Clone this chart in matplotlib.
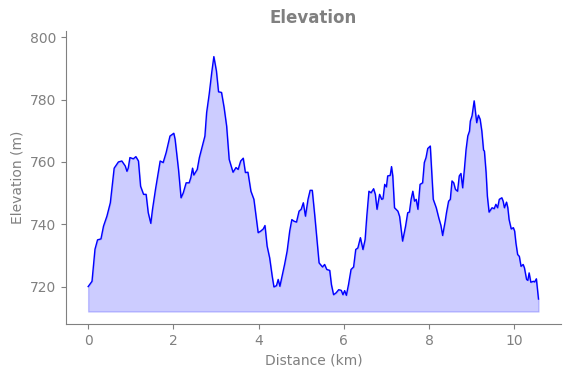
import matplotlib
matplotlib.use("Agg")
import matplotlib.pyplot as plt
import numpy as np

distance_km = [0.00, 0.09, 0.16, 0.22, 0.30, 0.36, 0.44, 0.52, 0.61, 0.71, 0.79, 0.87, 0.91, 0.94, 0.98,
               1.06, 1.12, 1.18, 1.23, 1.30, 1.36, 1.41, 1.47, 1.51, 1.58, 1.65, 1.69, 1.76, 1.83, 1.92,
               2.01, 2.04, 2.12, 2.18, 2.23, 2.30, 2.37, 2.41, 2.45, 2.48, 2.56, 2.61, 2.69, 2.74, 2.78,
               2.84, 2.90, 2.95, 3.01, 3.06, 3.13, 3.19, 3.25, 3.31, 3.40, 3.47, 3.52, 3.58, 3.64, 3.69,
               3.75, 3.82, 3.89, 3.93, 3.99, 4.05, 4.11, 4.15, 4.20, 4.26, 4.32, 4.36, 4.42, 4.46, 4.50,
               4.55, 4.61, 4.67, 4.73, 4.78, 4.83, 4.89, 4.95, 5.00, 5.05, 5.10, 5.16, 5.21, 5.26, 5.32,
               5.37, 5.42, 5.50, 5.55, 5.60, 5.67, 5.71, 5.76, 5.82, 5.88, 5.94, 5.98, 6.02, 6.06, 6.11,
               6.17, 6.23, 6.28, 6.33, 6.39, 6.45, 6.50, 6.54, 6.59, 6.64, 6.70, 6.74, 6.78, 6.84, 6.89,
               6.92, 6.96, 7.00, 7.03, 7.09, 7.12, 7.15, 7.19, 7.27, 7.31, 7.38, 7.45, 7.50, 7.54, 7.58,
               7.62, 7.66, 7.70, 7.74, 7.79, 7.85, 7.89, 7.93, 7.97, 8.03, 8.06, 8.10, 8.17, 8.23, 8.28,
               8.32, 8.38, 8.41, 8.46, 8.50, 8.54, 8.58, 8.62, 8.67, 8.71, 8.75, 8.79, 8.83, 8.87, 8.91,
               8.95, 8.97, 9.01, 9.06, 9.10, 9.12, 9.16, 9.20, 9.24, 9.28, 9.30, 9.34, 9.37, 9.41, 9.48,
               9.53, 9.57, 9.61, 9.65, 9.71, 9.74, 9.77, 9.82, 9.85, 9.88, 9.93, 9.98, 10.01, 10.04, 10.08,
               10.12, 10.16, 10.21, 10.24, 10.29, 10.32, 10.35, 10.39, 10.45, 10.48, 10.52, 10.57]

elevation_m = [720.0, 721.7, 732.0, 735.0, 735.3, 739.4, 742.6, 746.9, 758.0, 760.0, 760.3, 758.7, 757.0, 758.0, 761.4,
               761.0, 761.7, 760.3, 752.2, 749.6, 749.6, 743.7, 740.3, 744.8, 751.2, 757.0, 760.3, 759.8, 763.0, 768.3,
               769.2, 767.3, 757.6, 748.5, 750.0, 753.3, 753.3, 755.0, 758.0, 755.8, 757.6, 761.4, 765.7, 768.3, 775.8,
               781.7, 788.7, 793.8, 789.2, 782.5, 782.3, 777.5, 771.5, 760.8, 756.7, 758.2, 757.6, 760.3, 761.2, 756.6,
               756.7, 750.6, 748.0, 743.7, 737.3, 737.8, 738.5, 739.6, 733.0, 729.2, 723.3, 719.9, 720.3, 722.3, 720.1,
               723.3, 727.1, 731.4, 737.8, 741.5, 741.0, 740.7, 744.2, 744.8, 746.9, 742.6, 748.0, 750.9, 750.9, 742.6,
               735.1, 727.6, 726.3, 727.1, 725.5, 725.2, 720.6, 717.4, 718.0, 719.0, 718.8, 717.4, 718.7, 717.2, 720.6,
               725.5, 726.3, 731.9, 732.4, 735.7, 731.9, 735.1, 742.6, 750.6, 750.1, 751.4, 749.6, 744.8, 749.6, 748.0,
               748.2, 752.8, 752.0, 755.5, 755.7, 758.5, 755.5, 745.3, 744.2, 742.5, 734.6, 739.4, 743.7, 743.9, 748.0,
               750.6, 747.4, 748.0, 744.8, 752.8, 753.3, 759.8, 761.4, 764.3, 765.1, 757.6, 748.0, 745.3, 742.0, 739.6,
               736.4, 741.0, 743.7, 747.4, 748.0, 753.9, 753.3, 751.2, 750.6, 755.5, 756.3, 751.7, 757.6, 764.0, 768.3,
               769.9, 773.1, 774.8, 779.6, 774.8, 772.6, 775.0, 773.7, 769.9, 763.8, 763.5, 756.6, 749.0, 743.9, 745.3,
               745.0, 746.4, 745.3, 748.0, 748.5, 747.4, 745.3, 747.1, 745.3, 741.5, 738.5, 738.9, 737.8, 734.0, 730.3,
               729.7, 726.5, 727.1, 726.0, 722.3, 722.0, 724.4, 721.4, 721.7, 721.5, 722.5, 716.0]

fill_base = 712.0

fig = plt.figure(figsize=(5.71, 3.78), dpi=100)
ax = fig.add_axes([0.1156, 0.1429, 0.867, 0.775])

x = np.array(distance_km)
y = np.array(elevation_m)
ax.fill_between(x, y, fill_base, color="blue", alpha=0.2)
ax.plot(x, y, color="blue", linewidth=1.0)

ax.set_xlim(-0.52, 11.1)
ax.set_ylim(708, 802)
ax.set_xticks([0, 2, 4, 6, 8, 10])
ax.set_yticks([720, 740, 760, 780, 800])

gray = "#808080"
ax.set_title("Elevation", color=gray, fontweight="bold", fontsize=12)
ax.set_xlabel("Distance (km)", color=gray, fontsize=10)
ax.set_ylabel("Elevation (m)", color=gray, fontsize=10)
ax.tick_params(colors=gray, labelsize=10)
for s in ["top", "right"]:
    ax.spines[s].set_visible(False)
for s in ["left", "bottom"]:
    ax.spines[s].set_color(gray)

fig.savefig("out.png", dpi=100)
